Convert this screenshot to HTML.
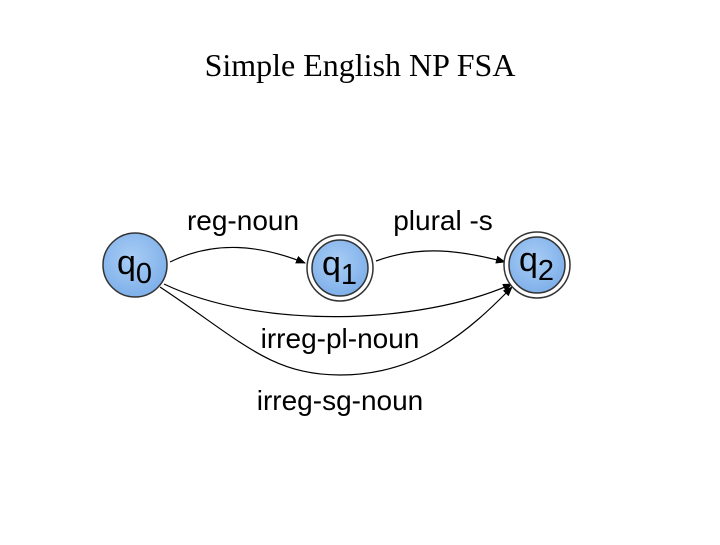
<!DOCTYPE html>
<html><head><style>
body{margin:0;width:720px;height:540px;background:#fff;overflow:hidden}
</style></head><body>
<svg width="720" height="540" viewBox="0 0 720 540" xmlns="http://www.w3.org/2000/svg">
<defs>
<radialGradient id="g" cx="45%" cy="40%" r="60%"><stop offset="0" stop-color="#a9cdf5"/><stop offset="1" stop-color="#7fb0ea"/></radialGradient>
<marker id="a" markerWidth="10" markerHeight="8" refX="9" refY="4" orient="auto" markerUnits="userSpaceOnUse"><path d="M0,0 L10,4 L0,8 z" fill="#000"/></marker>
</defs>
<text x="360" y="76" font-family="Liberation Serif, serif" font-size="32" text-anchor="middle">Simple English NP FSA</text>
<g fill="none" stroke="#000" stroke-width="1.2">
<path d="M170,262 C215,240 260,245 305,263" marker-end="url(#a)"/>
<path d="M376,261 C420,245 460,250 505,262" marker-end="url(#a)"/>
<path d="M164,284 C260,330 420,325 512,284" marker-end="url(#a)"/>
<path d="M160,287 C240,340 270,375 340,375 C420,375 470,330 512,287" marker-end="url(#a)"/>
</g>
<g stroke="#333" stroke-width="1.5">
<circle cx="135" cy="265" r="32" fill="url(#g)"/>
<circle cx="340" cy="268" r="33" fill="#fff"/>
<circle cx="340" cy="268" r="28" fill="url(#g)"/>
<circle cx="537" cy="265" r="33" fill="#fff"/>
<circle cx="537" cy="265" r="28" fill="url(#g)"/>
</g>
<g font-family="Liberation Sans, sans-serif" fill="#000">
<text x="117" y="274" font-size="34">q<tspan font-size="29" dy="9">0</tspan></text>
<text x="322" y="275" font-size="34">q<tspan font-size="29" dy="9">1</tspan></text>
<text x="519" y="271" font-size="34">q<tspan font-size="29" dy="9">2</tspan></text>
<text x="243" y="230" font-size="28" text-anchor="middle">reg-noun</text>
<text x="443" y="230" font-size="28" text-anchor="middle">plural -s</text>
<text x="340" y="348" font-size="28" text-anchor="middle">irreg-pl-noun</text>
<text x="340" y="410" font-size="28" text-anchor="middle">irreg-sg-noun</text>
</g>
</svg>
</body></html>
